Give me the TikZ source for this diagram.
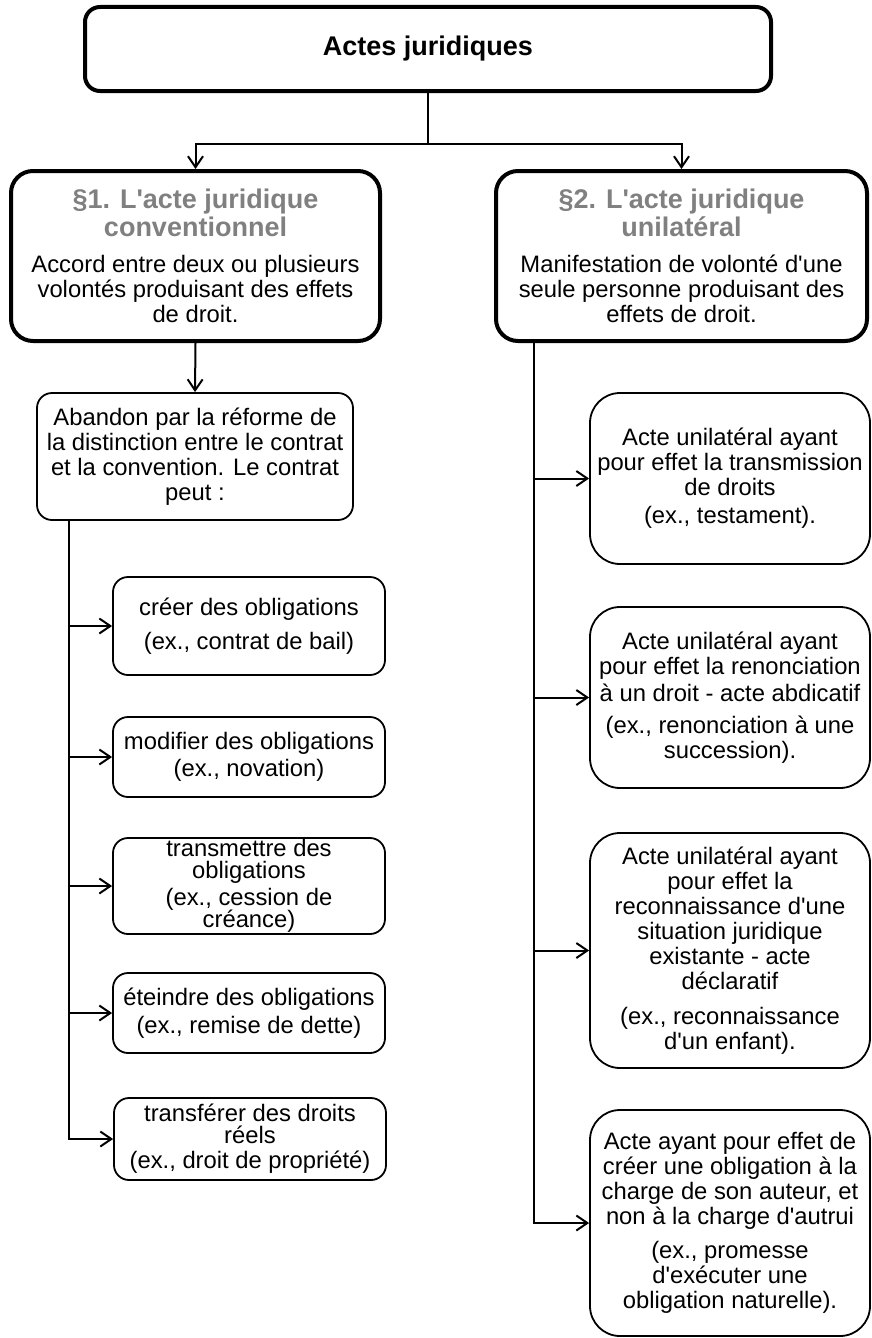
\documentclass[tikz,border=0pt]{standalone}
\usepackage{fontspec}
\setmainfont{Liberation Sans}[Ligatures=TeXOff]
\usetikzlibrary{arrows.meta}
\definecolor{hdgray}{RGB}{128,128,128}
\begin{document}
\begin{tikzpicture}[x=1pt,y=-1pt,
  box/.style={draw, rounded corners=15pt, align=center, inner sep=0pt, line width=1.8pt,
    font=\fontsize{23.8}{25}\selectfont},
  bigbox/.style={box, line width=4pt, rounded corners=22pt},
  rbox/.style={box, rounded corners=30pt, minimum width=280pt},
  lbox/.style={box, minimum width=272pt},
  conn/.style={line width=2pt},
  arr/.style={conn, -{Straight Barb[length=11pt,width=15pt]}}]
\useasboundingbox (0,0) rectangle (872,1338);

\node[bigbox, rounded corners=15pt, minimum width=686pt, minimum height=84pt,
  font=\fontsize{27}{28}\selectfont\bfseries] (title) at (428,49) {Actes juridiques};

\node[bigbox, minimum width=369pt, minimum height=170pt] (h1) at (195.5,256)
 {\textbf{\fontsize{27}{28}\selectfont\color{hdgray}§1. L'acte juridique}\\[2pt]
  \textbf{\fontsize{27}{28}\selectfont\color{hdgray}conventionnel}\\[11pt]
  Accord entre deux ou plusieurs\\volontés produisant des effets\\de droit.};

\node[bigbox, minimum width=371pt, minimum height=170pt] (h2) at (681.5,256)
 {\textbf{\fontsize{27}{28}\selectfont\color{hdgray}§2. L'acte juridique}\\[2pt]
  \textbf{\fontsize{27}{28}\selectfont\color{hdgray}unilatéral}\\[11pt]
  Manifestation de volonté d'une\\seule personne produisant des\\effets de droit.};

\coordinate (j) at (428,144);
\draw[arr] (title.south) -- (j) -| (h1.north);
\draw[arr] (j) -| (h2.north);

\node[box, minimum width=316pt, minimum height=127pt] (aban) at (195,456.5)
 {Abandon par la réforme de\\la distinction entre le contrat\\et la convention. Le contrat\\peut :};
\draw[arr] (h1.south) -- (aban.north);

\node[lbox, minimum height=98pt] (c1) at (249,626)
 {créer des obligations\\[9pt](ex., contrat de bail)};
\node[lbox, minimum height=80pt] (c2) at (249,757)
 {modifier des obligations\\[2pt](ex., novation)};
\node[lbox, minimum height=96pt] (c3) at (249,886)
 {transmettre des\\[-3pt]obligations\\[2pt](ex., cession de\\[-3pt]créance)};
\node[lbox, minimum height=80pt] (c4) at (249,1013)
 {éteindre des obligations\\[3pt](ex., remise de dette)};
\node[lbox, minimum height=82pt] (c5) at (250,1139)
 {transférer des droits\\[-3pt]réels\\[0pt](ex., droit de propriété)};

\coordinate (ls) at (69,520);
\foreach \c in {c1,c2,c3,c4,c5} \draw[arr] (ls) |- (\c.west);

\node[rbox, minimum height=171pt] (r1) at (730,478.5)
 {Acte unilatéral ayant\\pour effet la transmission\\de droits\\[3pt](ex., testament).};
\node[rbox, minimum height=181pt] (r2) at (730,697.5)
 {Acte unilatéral ayant\\pour effet la renonciation\\[2pt]à un droit - acte abdicatif\\[7pt](ex., renonciation à une\\succession).};
\node[rbox, minimum height=235pt] (r3) at (730,950.5)
 {Acte unilatéral ayant\\pour effet la\\reconnaissance d'une\\situation juridique\\existante - acte\\déclaratif\\[10pt](ex., reconnaissance\\d'un enfant).};
\node[rbox, minimum height=226pt] (r4) at (730,1223)
 {Acte ayant pour effet de\\créer une obligation à la\\charge de son auteur, et\\non à la charge d'autrui\\[9pt](ex., promesse\\d'exécuter une\\obligation naturelle).};

\coordinate (rs) at (534,340);
\foreach \c in {r1,r2,r3,r4} \draw[arr] (rs) |- (\c.west);
\end{tikzpicture}
\end{document}
